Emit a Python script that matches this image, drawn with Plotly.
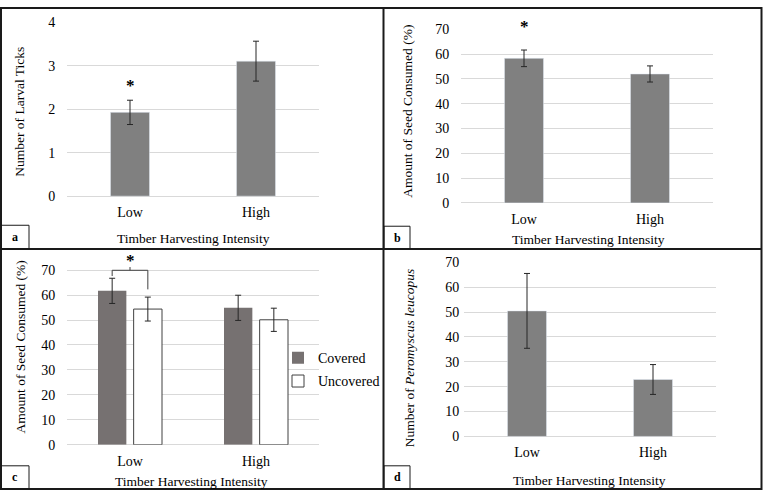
import plotly.graph_objects as go

# ---------------- data ----------------
categories = ["Low", "High"]

ticks_mean = [1.93, 3.11]
ticks_err = [0.28, 0.46]

seed_mean = [58.3, 52.0]
seed_err = [3.35, 3.25]

covered_mean = [61.7, 54.9]
covered_err = [5.05, 5.05]
uncovered_mean = [54.4, 50.1]
uncovered_err = [4.8, 4.65]

mice_mean = [50.5, 22.9]
mice_err = [15.05, 6.0]

W, H = 763, 500
FONT = "Liberation Serif"
BAR_GRAY = "#808080"
COV_GRAY = "#767171"
GRID = "#d9d9d9"
ERR = "#262626"


def px(x):
    return x / W


def py(y):
    return 1 - y / H


fig = go.Figure()

eb = lambda arr: dict(type="data", array=arr, visible=True, color=ERR, thickness=1, width=3)

# panel a
fig.add_trace(go.Bar(x=categories, y=ticks_mean, error_y=eb(ticks_err), marker_color=BAR_GRAY,
                     width=0.31, xaxis="x", yaxis="y", showlegend=False))
# panel b
fig.add_trace(go.Bar(x=categories, y=seed_mean, error_y=eb(seed_err), marker_color=BAR_GRAY,
                     width=0.31, xaxis="x2", yaxis="y2", showlegend=False))
# panel c
fig.add_trace(go.Bar(x=categories, y=covered_mean, error_y=eb(covered_err), name="Covered",
                     marker=dict(color=COV_GRAY, line=dict(width=0)), width=0.225, offset=-0.254,
                     xaxis="x3", yaxis="y3", legend="legend"))
fig.add_trace(go.Bar(x=categories, y=uncovered_mean, error_y=eb(uncovered_err), name="Uncovered",
                     marker=dict(color="white", line=dict(color="#404040", width=1)), width=0.225,
                     offset=0.029, xaxis="x3", yaxis="y3", legend="legend2"))
# panel d
fig.add_trace(go.Bar(x=categories, y=mice_mean, error_y=eb(mice_err), marker_color=BAR_GRAY,
                     width=0.31, xaxis="x4", yaxis="y4", showlegend=False))

tickfont = dict(family=FONT, size=14, color="#000")


def xax(x0, x1, anchor):
    return dict(domain=[px(x0), px(x1)], anchor=anchor, type="category",
                categoryorder="array", categoryarray=categories, range=[-0.5, 1.5],
                showgrid=False, showline=False, zeroline=False, ticks="outside",
                ticklen=3, tickcolor="rgba(0,0,0,0)", tickfont=tickfont, fixedrange=True)


def yax(ytop, ybot, anchor, rng, tickvals, ticklen=8):
    return dict(domain=[py(ybot), py(ytop)], anchor=anchor, range=rng, tickvals=tickvals,
                showgrid=True, gridcolor=GRID, gridwidth=1, zeroline=True, zerolinecolor=GRID,
                zerolinewidth=1, showline=False, ticks="outside" if ticklen else "",
                ticklen=ticklen, tickcolor="rgba(0,0,0,0)", tickfont=tickfont, fixedrange=True)


fig.update_layout(
    width=W, height=H, margin=dict(l=0, r=0, t=0, b=0),
    paper_bgcolor="white", plot_bgcolor="white",
    font=dict(family=FONT, size=13, color="#000"),
    xaxis=xax(67, 319, "y"),
    yaxis=yax(16, 195, "x", [0, 4], [0, 1, 2, 3, 4]),
    xaxis2=xax(461, 713, "y2"),
    yaxis2=yax(23, 202, "x2", [0, 70], list(range(0, 71, 10))),
    xaxis3=xax(67, 319, "y3"),
    yaxis3=yax(451.3 - 76 * 180 / 70, 451.3, "x3", [0, 76], list(range(0, 71, 10))),
    xaxis4=xax(464, 716, "y4"),
    yaxis4=yax(263.3, 442.7, "x4", [0, 70], list(range(0, 71, 10)), ticklen=1),
    legend=dict(x=px(318 - 40), y=py(362), xanchor="left", yanchor="middle",
                bgcolor="rgba(0,0,0,0)", font=dict(family=FONT, size=14, color="#000")),
    legend2=dict(x=px(318 - 40), y=py(386), xanchor="left", yanchor="middle",
                 bgcolor="rgba(0,0,0,0)", font=dict(family=FONT, size=14, color="#000")),
)

ann = []


def paper_text(text, x, y, angle=0, size=13.5, bold=False):
    ann.append(dict(text=f"<b>{text}</b>" if bold else text, x=px(x), y=py(y), xref="paper",
                    yref="paper", showarrow=False, textangle=angle, xanchor="center",
                    yanchor="middle", font=dict(family=FONT, size=size, color="#000")))


# axis titles
paper_text("Number of Larval Ticks", 20, 108, -90)
paper_text("Amount of Seed Consumed (%)", 408, 108, -90)
paper_text("Amount of Seed Consumed (%)", 20, 351, -90)
paper_text("Number of <i>Peromyscus leucopus</i>", 409, 362, -90)
paper_text("Timber Harvesting Intensity", 193, 239)
paper_text("Timber Harvesting Intensity", 588, 240)
paper_text("Timber Harvesting Intensity", 192, 489)
paper_text("Timber Harvesting Intensity", 589, 488)
# panel letters
for t, x, y in [("a", 15, 237), ("b", 397, 238), ("c", 15, 485), ("d", 397, 485)]:
    paper_text(t, x, y, size=12, bold=True)

# significance stars
star_font = dict(family=FONT, size=17, color="#000")
ann.append(dict(text="<b>*</b>", x=0, y=ticks_mean[0] + ticks_err[0] + 0.22, xref="x", yref="y",
                showarrow=False, yanchor="middle", yshift=5, font=star_font))
ann.append(dict(text="<b>*</b>", x=0, y=seed_mean[0] + seed_err[0] + 7.4, xref="x2", yref="y2",
                showarrow=False, yanchor="middle", yshift=5, font=star_font))

# bracket in panel c (Low: covered vs uncovered)
xc = -0.254 + 0.225 / 2
xu = 0.029 + 0.225 / 2
top_c = covered_mean[0] + covered_err[0]
top_u = uncovered_mean[0] + uncovered_err[0]
ybr = top_c + 3.2
shapes = []
bl = dict(color="#404040", width=1)
shapes.append(dict(type="line", xref="x3", yref="y3", x0=xc, x1=xu, y0=ybr, y1=ybr, line=bl))
shapes.append(dict(type="line", xref="x3", yref="y3", x0=xc, x1=xc, y0=ybr, y1=top_c + 0.9, line=bl))
shapes.append(dict(type="line", xref="x3", yref="y3", x0=xu, x1=xu, y0=ybr, y1=top_u + 3.1, line=bl))
shapes.append(dict(type="line", xref="x3", yref="y3", x0=(xc + xu) / 2, x1=(xc + xu) / 2,
                   y0=ybr, y1=ybr + 1.3, line=bl))
ann.append(dict(text="<b>*</b>", x=(xc + xu) / 2, y=ybr + 3.9, xref="x3", yref="y3",
                showarrow=False, yanchor="middle", font=star_font))

# panel frames
frame = dict(color="#1a1a1a", width=2)
shapes.append(dict(type="rect", xref="paper", yref="paper", x0=px(1), x1=px(761.5), y0=py(497),
                   y1=py(1), line=frame))
shapes.append(dict(type="line", xref="paper", yref="paper", x0=px(383.5), x1=px(383.5),
                   y0=py(497), y1=py(1), line=frame))
shapes.append(dict(type="line", xref="paper", yref="paper", x0=px(1), x1=px(761.5),
                   y0=py(249.5), y1=py(249.5), line=frame))
# label boxes
lb = dict(color="#1a1a1a", width=1)
for x0, y0, x1, y1 in [(1, 225, 29, 249), (384, 226, 410, 249), (1, 473, 29, 497),
                       (384, 473, 410, 497)]:
    shapes.append(dict(type="rect", xref="paper", yref="paper", x0=px(x0), x1=px(x1),
                       y0=py(y1), y1=py(y0), line=lb))

fig.update_layout(annotations=ann, shapes=shapes)

fig.write_html("out.html")
